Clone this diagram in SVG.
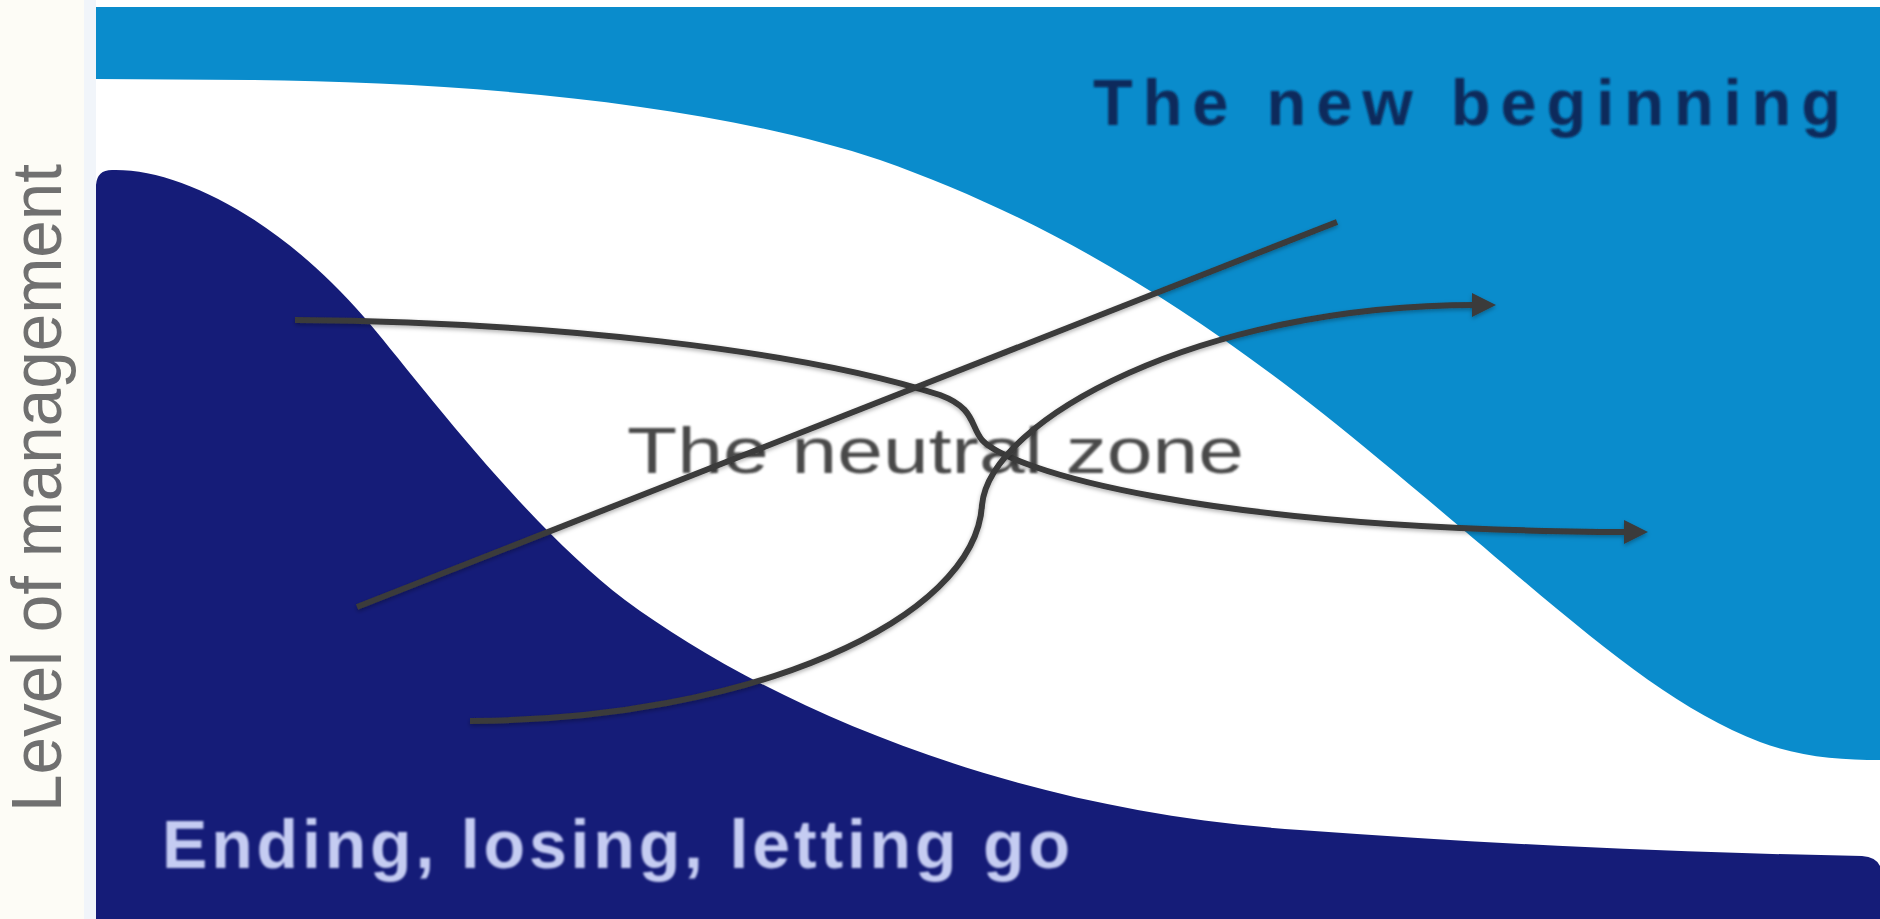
<svg xmlns="http://www.w3.org/2000/svg" width="1880" height="919" viewBox="0 0 1880 919">
  <style>
    .conn { fill: none; stroke: #3a3a3a; stroke-width: 6; stroke-linecap: butt; filter: url(#shadow); }
    .lbl { font-family: "Liberation Sans", Arial, sans-serif; }
  </style>
  <defs>
    <marker id="arrow" markerUnits="userSpaceOnUse" markerWidth="26" markerHeight="26" refX="4" refY="12" orient="auto">
      <path d="M0,0 L24,12 L0,24 Z" fill="#3a3a3a"/>
    </marker>
    <filter id="shadow" x="-5%" y="-20%" width="110%" height="140%">
      <feDropShadow dx="0" dy="2" stdDeviation="2" flood-color="#000" flood-opacity="0.3"/>
    </filter>
    <filter id="soft" x="-5%" y="-20%" width="110%" height="140%">
      <feGaussianBlur stdDeviation="0.8"/>
    </filter>
  </defs>

  <rect x="0" y="0" width="1880" height="919" fill="#ffffff"/>
  <rect x="0" y="0" width="84" height="919" fill="#fdfcf6"/>
  <rect x="84" y="0" width="12" height="919" fill="#f1f5fa"/>

  <g id="region-new-beginning">
    <path d="M96 7 H1880 V760 C1840 760 1800 757 1760 742 C1650 700 1550 600 1380 460 C1200 310 1050 220 880 160 C700 100 450 82 250 80 L96 79 Z" fill="#0a8ccc"/>
    <text class="lbl" x="1093" y="125" font-size="65" font-weight="bold" fill="#0c2b5c" textLength="748" lengthAdjust="spacing" filter="url(#soft)">The new beginning</text>
  </g>

  <g id="region-neutral-zone">
    <text class="lbl" x="627" y="473" font-size="64" fill="#4a4a4a" textLength="617" lengthAdjust="spacingAndGlyphs" filter="url(#soft)">The neutral zone</text>
  </g>

  <g id="region-ending">
    <path d="M96 919 L96 185 Q97 170 112 170 C180 168 280 220 364 317 C410 370 520 520 625 600 C760 700 1000 810 1300 830 C1500 845 1700 853 1862 856 Q1876 857 1880 866 L1880 919 Z" fill="#151c78"/>
    <text class="lbl" x="162" y="868" font-size="68" font-weight="bold" fill="#c5ccf2" textLength="908" lengthAdjust="spacing" filter="url(#soft)">Ending, losing, letting go</text>
  </g>

  <g id="axis-label">
    <text class="lbl" transform="translate(61,812) rotate(-90)" font-size="70" fill="#707070" textLength="648" lengthAdjust="spacingAndGlyphs">Level of management</text>
  </g>

  <g id="connectors">
    <path class="conn" d="M295 320 C550 322 800 350 940 395 C975 408 970 425 982 440 C1010 470 1200 530 1628 532" marker-end="url(#arrow)"/>
    <path class="conn" d="M357 607 L1337 222"/>
    <path class="conn" d="M470 721 C750 720 975 620 982 505 C990 420 1200 305 1476 305" marker-end="url(#arrow)"/>
  </g>
</svg>
